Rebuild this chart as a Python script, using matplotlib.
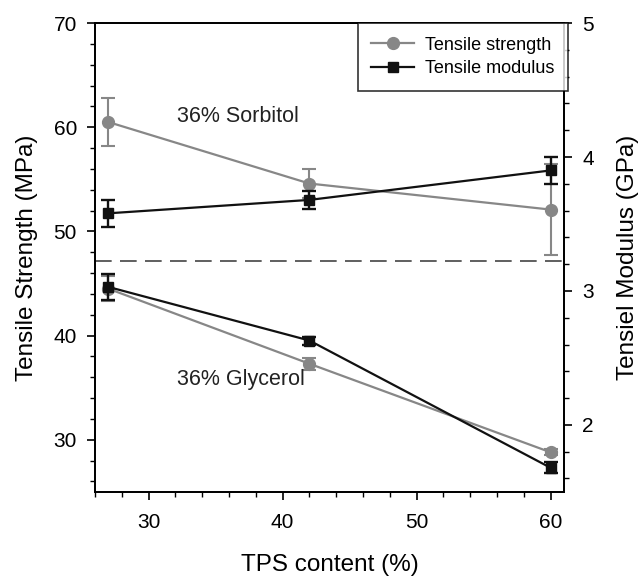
import matplotlib
matplotlib.use("Agg")
import matplotlib.pyplot as plt
from matplotlib.ticker import MultipleLocator
from matplotlib.lines import Line2D

plt.rcParams['font.family'] = ['Liberation Sans', 'DejaVu Sans']

tps = [27, 42, 60]
sorb_strength = [60.5, 54.6, 52.1]
sorb_strength_err = [2.3, 1.4, 4.4]
glyc_strength = [44.5, 37.3, 28.8]
glyc_strength_err = [1.2, 0.6, 0.3]
sorb_modulus = [3.58, 3.68, 3.90]
sorb_modulus_err = [0.10, 0.07, 0.10]
glyc_modulus = [3.03, 2.63, 1.68]
glyc_modulus_err = [0.10, 0.03, 0.04]
divider_mpa = 47.2

grey = '#878787'
black = '#111111'

fig = plt.figure(figsize=(6.38, 5.78), dpi=100)
ax1 = fig.add_axes([0.149, 0.149, 0.735, 0.811])
ax2 = ax1.twinx()

for ys, es in [(sorb_strength, sorb_strength_err), (glyc_strength, glyc_strength_err)]:
    ax1.errorbar(tps, ys, yerr=es, color=grey, marker='o', ecolor=grey,
                 capsize=5, capthick=1.5, elinewidth=1.5, lw=1.6, ms=8.5)
for ys, es in [(sorb_modulus, sorb_modulus_err), (glyc_modulus, glyc_modulus_err)]:
    ax2.errorbar(tps, ys, yerr=es, color=black, marker='s', ecolor=black,
                 capsize=5, capthick=1.7, elinewidth=1.7, lw=1.6, ms=7.5)

ax1.axhline(divider_mpa, color='#444444', lw=1.2, dashes=(10, 5))

ax1.set_xlim(26, 61)
ax1.set_ylim(25, 70)
ax2.set_ylim(1.5, 5)
ax1.xaxis.set_major_locator(MultipleLocator(10))
ax1.xaxis.set_minor_locator(MultipleLocator(2))
ax1.yaxis.set_major_locator(MultipleLocator(10))
ax1.yaxis.set_minor_locator(MultipleLocator(2))
ax2.yaxis.set_major_locator(MultipleLocator(1))
ax2.yaxis.set_minor_locator(MultipleLocator(0.2))

for ax in (ax1, ax2):
    ax.tick_params(which='major', direction='out', length=6, width=1.2,
                   labelsize=15, pad=7)
    ax.tick_params(which='minor', direction='out', length=3.8, width=1.0)
    for s in ax.spines.values():
        s.set_linewidth(1.3)
ax1.tick_params(axis='x', pad=9)

ax1.set_xlabel('TPS content (%)', fontsize=17.5, labelpad=16)
ax1.set_ylabel('Tensile Strength (MPa)', fontsize=17.5, labelpad=11)
ax2.set_ylabel('Tensiel Modulus (GPa)', fontsize=17.5, labelpad=17)

ax1.text(32.1, 61.0, '36% Sorbitol', fontsize=15.5, va='center', ha='left', color='#222222')
ax1.text(32.1, 35.8, '36% Glycerol', fontsize=15.5, va='center', ha='left', color='#222222')

handles = [Line2D([], [], color=grey, marker='o', ms=8.5, lw=1.6),
           Line2D([], [], color=black, marker='s', ms=7.5, lw=1.6)]
leg = ax2.legend(handles, ['Tensile strength', 'Tensile modulus'], loc='upper right',
                 bbox_to_anchor=(1.009, 1.0), fontsize=13, frameon=True, fancybox=False,
                 edgecolor='black', borderaxespad=0, handlelength=2.4, borderpad=0.75,
                 labelspacing=0.35, handletextpad=0.6)
leg.get_frame().set_linewidth(1.2)

fig.savefig('out.png', dpi=100)
